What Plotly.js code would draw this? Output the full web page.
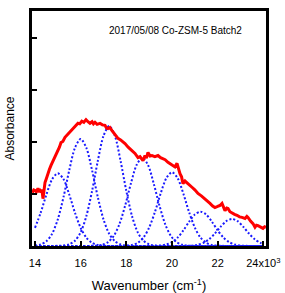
<!DOCTYPE html>
<html>
<head>
<meta charset="utf-8">
<script src="https://cdn.plot.ly/plotly-3.0.1.min.js"></script>
<style>html,body{margin:0;padding:0;background:#fff;}#chart{width:285px;height:293px;}</style>
</head>
<body>
<div id="chart"></div>
<script>
// Measured spectrum (wavenumber, absorbance)
const specX = [13870,13912,13950,14000,14060,14131,14180,14219,14263,14300,14350,14400,14438,14500,14569,14630,14701,14780,14876,14940,15007,15070,15139,15220,15314,15440,15577,15700,15800,15883,15960,16050,16140,16234,16320,16409,16500,16560,16628,16720,16847,16950,17066,17130,17197,17280,17373,17500,17635,17750,17942,18080,18249,18380,18511,18600,18730,18818,18880,18949,19040,19125,19250,19387,19500,19606,19700,19825,19940,20044,20130,20220,20290,20351,20420,20482,20570,20658,20760,20877,21000,21139,21300,21446,21550,21665,21780,21884,22000,22103,22191,22260,22322,22400,22453,22540,22629,22740,22848,22960,23067,23198,23280,23329,23440,23549,23636,23700,23767,23880,23986,24060,24118];
const specY = [1.06,1.05,1.08,1.07,1.04,1.11,1.06,1.07,1.03,1.09,0.91,1.12,1.22,1.30,1.41,1.47,1.55,1.62,1.70,1.76,1.84,1.90,1.99,2.01,2.09,2.15,2.22,2.27,2.33,2.36,2.35,2.40,2.38,2.43,2.39,2.36,2.39,2.35,2.38,2.34,2.36,2.33,2.32,2.27,2.26,2.28,2.22,2.14,2.07,2.04,1.97,1.90,1.84,1.78,1.70,1.72,1.64,1.74,1.69,1.80,1.73,1.74,1.72,1.74,1.70,1.68,1.66,1.61,1.58,1.55,1.52,1.59,1.47,1.39,1.33,1.20,1.25,1.22,1.17,1.13,1.08,1.01,0.96,0.91,0.86,0.82,0.77,0.74,0.76,0.78,0.82,0.74,0.68,0.73,0.72,0.66,0.63,0.61,0.59,0.56,0.55,0.53,0.57,0.55,0.48,0.43,0.36,0.40,0.39,0.37,0.34,0.37,0.36];

// Fitted component bands
const band1X = [14000,14250,14500,14750,15000,15250,15500,15750,16000,16250,16500,16750,17000,24000];
const band1Y = [0.349,0.641,0.990,1.284,1.40,1.284,0.990,0.641,0.349,0.160,0.062,0.020,0.005,0];
const band2X = [14000,14250,14500,14750,15000,15250,15500,15750,16000,16250,16500,16750,17000,17250,17500,17750,18000,24000];
const band2Y = [0.008,0.029,0.091,0.235,0.513,0.943,1.456,1.889,2.06,1.889,1.456,0.943,0.513,0.235,0.091,0.029,0.008,0];
const band3X = [14000,15250,15500,15750,16000,16250,16500,16750,17000,17250,17500,17750,18000,18250,18500,18750,19000,19250,24000];
const band3Y = [0,0.009,0.032,0.102,0.263,0.575,1.058,1.633,2.118,2.31,2.118,1.633,1.058,0.575,0.263,0.102,0.032,0.009,0];
const band4X = [14000,16700,16950,17200,17450,17700,17950,18200,18450,18700,18950,19200,19450,19700,19950,20200,20450,20700,24000];
const band4Y = [0,0.007,0.024,0.075,0.194,0.423,0.779,1.202,1.559,1.70,1.559,1.202,0.779,0.423,0.194,0.075,0.024,0.007,0];
const band5X = [14000,18000,18250,18500,18750,19000,19250,19500,19750,20000,20250,20500,20750,21000,21250,21500,21750,22000,24000];
const band5Y = [0,0.006,0.020,0.062,0.162,0.354,0.650,1.004,1.302,1.42,1.302,1.004,0.650,0.354,0.162,0.062,0.020,0.006,0];
const band6X = [14000,19250,19500,19750,20000,20250,20500,20750,21000,21250,21500,21750,22000,22250,22500,22750,23000,23250,24000];
const band6Y = [0,0.003,0.009,0.029,0.075,0.164,0.302,0.467,0.605,0.66,0.605,0.467,0.302,0.164,0.075,0.029,0.009,0.003,0];
const band7X = [14000,20625,20875,21125,21375,21625,21875,22125,22375,22625,22875,23125,23375,23625,23875,24000];
const band7Y = [0,0.002,0.007,0.023,0.059,0.129,0.238,0.368,0.477,0.52,0.477,0.368,0.238,0.129,0.059,0.035];

const xTickVals = [14000,16000,18000,20000,22000,24000];
const xTickText = ['14','16','18','20','22','24x10<sup>3</sup>'];
const yTickVals = [0,1,2,3,4];

const bands = [[band1X,band1Y],[band2X,band2Y],[band3X,band3Y],[band4X,band4Y],[band5X,band5Y],[band6X,band6Y],[band7X,band7Y]];
const traces = bands.map(b => ({
  x: b[0], y: b[1], type: 'scatter', mode: 'lines',
  line: {color: '#1a1aff', width: 2, dash: '2px,2px', shape: 'spline', smoothing: 0.8},
  hoverinfo: 'skip', showlegend: false
}));
traces.push({
  x: specX, y: specY, type: 'scatter', mode: 'lines',
  line: {color: '#ff0000', width: 3},
  showlegend: false
});

const layout = {
  width: 285, height: 293,
  margin: {l: 32, r: 19, t: 11, b: 47},
  paper_bgcolor: '#ffffff', plot_bgcolor: '#ffffff',
  font: {family: 'Arial, "Liberation Sans", sans-serif', color: '#000'},
  showlegend: false,
  xaxis: {
    range: [13869, 24118],
    tickvals: xTickVals, ticktext: xTickText,
    ticks: 'inside', ticklen: 5, tickwidth: 2, tickcolor: '#000',
    ticklabelstandoff: 5,
    tickfont: {size: 11, color: '#000'},
    showline: true, linecolor: '#000', linewidth: 3, mirror: true,
    showgrid: false, zeroline: false,
    title: {text: 'Wavenumber (cm<sup>-1</sup>)', font: {size: 13, color: '#000'}, standoff: 14}
  },
  yaxis: {
    range: [0, 4.52],
    tickvals: yTickVals, showticklabels: false,
    ticks: 'inside', ticklen: 5, tickwidth: 2, tickcolor: '#000',
    showline: true, linecolor: '#000', linewidth: 3, mirror: true,
    showgrid: false, zeroline: false,
    title: {text: 'Absorbance', font: {size: 12, color: '#000'}, standoff: 12}
  },
  annotations: [{
    text: '2017/05/08 Co-ZSM-5 Batch2', xref: 'paper', yref: 'paper',
    x: 0.614, y: 0.915, xanchor: 'center', yanchor: 'middle', showarrow: false,
    font: {size: 10, color: '#000'}
  }]
};

Plotly.newPlot('chart', traces, layout, {displayModeBar: false, staticPlot: true});
</script>
</body>
</html>
